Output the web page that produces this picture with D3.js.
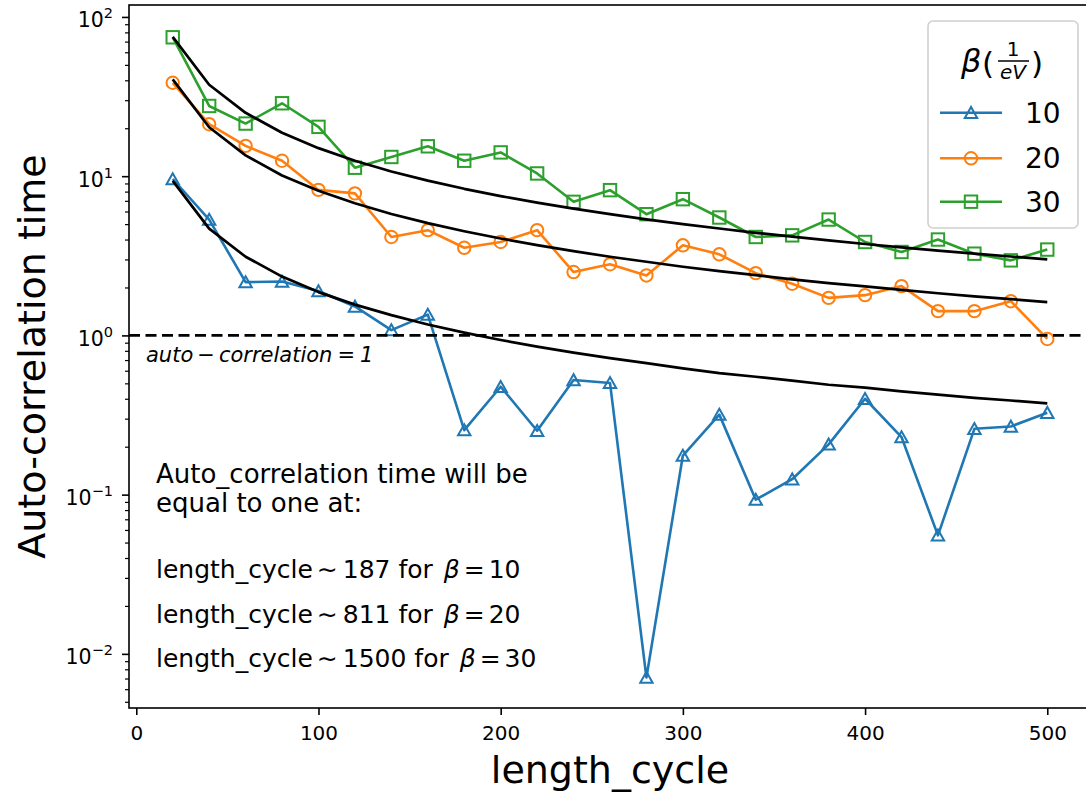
<!DOCTYPE html>
<html><head><meta charset="utf-8">
<script src="https://cdn.jsdelivr.net/npm/d3@7"></script>
<style>
body{margin:0;background:#fff}
svg{display:block}
text{font-family:"DejaVu Sans",sans-serif;fill:#000}
</style>
</head><body>
<svg id="c" width="1086" height="794"></svg>
<script>
// ---------- data ----------
const lengthCycle = [20,40,60,80,100,120,140,160,180,200,220,240,260,280,300,320,340,360,380,400,420,440,460,480,500];
const beta10 = [9.6,5.34,2.16,2.18,1.9,1.52,1.08,1.35,0.254,0.476,0.252,0.525,0.503,0.0071,0.176,0.318,0.093,0.125,0.207,0.40,0.23,0.0555,0.259,0.268,0.327];
const beta20 = [38.6,21.2,15.5,12.5,8.2,7.8,4.15,4.58,3.55,3.86,4.58,2.5,2.8,2.38,3.68,3.23,2.46,2.11,1.72,1.79,2.04,1.42,1.42,1.64,0.95];
const beta30 = [74.5,27.6,21.4,28.7,20.4,11.3,13.2,15.4,12.5,14.1,10.4,6.9,8.17,5.77,7.17,5.5,4.15,4.25,5.34,3.86,3.34,4.0,3.26,2.96,3.46];
const fit10 = [9.35,4.68,3.12,2.34,1.87,1.56,1.34,1.17,1.04,0.935,0.85,0.78,0.72,0.67,0.62,0.58,0.55,0.52,0.49,0.47,0.445,0.425,0.405,0.39,0.374];
const fit20 = [40.55,20.3,13.5,10.1,8.11,6.76,5.79,5.07,4.51,4.06,3.69,3.38,3.12,2.90,2.70,2.53,2.39,2.25,2.13,2.03,1.93,1.84,1.76,1.69,1.62];
const fit30 = [75,37.5,25,18.75,15,12.5,10.7,9.38,8.33,7.5,6.82,6.25,5.77,5.36,5.0,4.69,4.41,4.17,3.95,3.75,3.57,3.41,3.26,3.13,3.0];
const xTicks = [0,100,200,300,400,500];
const yTicks = [1e-2,1e-1,1e0,1e1,1e2];
const yTickExp = ["\u22122","\u22121","0","1","2"];
const legendLabels = ["10","20","30"];
const crossings = ["187","811","1500"];
const seriesColors = ["#1f77b4","#ff7f0e","#2ca02c"];
const markerTypes = ["triangle","circle","square"];

// ---------- scales ----------
const svg = d3.select("#c");
const L = 129, R = 1091, T = 5, B = 708;
const x = d3.scaleLinear().domain([-4, 524]).range([L, R]);
const y = d3.scaleLog().domain([Math.pow(10,-2.34), Math.pow(10,2.075)]).range([B, T]);

// ---------- axes ----------
const xAxis = d3.axisBottom(x).tickValues(xTicks).tickSize(7).tickPadding(11).tickFormat(d3.format("d"));
const gx = svg.append("g").attr("transform", `translate(0,${B})`).call(xAxis);
gx.select(".domain").remove();
gx.selectAll(".tick line").attr("stroke","#000").attr("stroke-width",1.6);
gx.selectAll(".tick text").style("font-family","DejaVu Sans").style("font-size","20px").attr("fill","#000");

const minor = [];
for (let e = -3; e <= 2; e++) for (let k = 2; k <= 9; k++) {
  const v = k * Math.pow(10, e);
  if (v >= y.domain()[0] && v <= y.domain()[1]) minor.push(v);
}
const gyMinor = svg.append("g").attr("transform", `translate(${L},0)`)
  .call(d3.axisLeft(y).tickValues(minor).tickSize(4).tickFormat(""));
gyMinor.select(".domain").remove();
gyMinor.selectAll(".tick line").attr("stroke","#000").attr("stroke-width",1.2);

const gy = svg.append("g").attr("transform", `translate(${L},0)`)
  .call(d3.axisLeft(y).tickValues(yTicks).tickSize(7).tickFormat(""));
gy.select(".domain").remove();
gy.selectAll(".tick line").attr("stroke","#000").attr("stroke-width",1.6);

yTicks.forEach((v, i) => {
  const t = svg.append("text").attr("x", 113).attr("y", y(v) + 10.5)
    .attr("text-anchor","end").style("font-size","20.5px");
  t.append("tspan").text("10");
  t.append("tspan").attr("dy", -9).style("font-size","14.5px").text(yTickExp[i]);
});

// ---------- axis labels ----------
svg.append("text").attr("x", (x(-4) + x(524)) / 2).attr("y", 783)
  .attr("text-anchor","middle").style("font-size","38px").text("length_cycle");
svg.append("text").attr("transform", `translate(45,${(T + B) / 2}) rotate(-90)`)
  .attr("text-anchor","middle").style("font-size","38px").text("Auto-correlation time");

// ---------- plot ----------
const plot = svg.append("g");
const line = d3.line().x(d => x(d[0])).y(d => y(d[1]));

function marker(g, type, cx, cy, color) {
  if (type === "circle") {
    g.append("circle").attr("cx", cx).attr("cy", cy).attr("r", 6.2)
      .attr("fill","none").attr("stroke", color).attr("stroke-width", 2);
  } else if (type === "square") {
    g.append("rect").attr("x", cx - 6.2).attr("y", cy - 6.2).attr("width", 12.4).attr("height", 12.4)
      .attr("fill","none").attr("stroke", color).attr("stroke-width", 2);
  } else {
    g.append("path").attr("d", `M${cx},${cy - 5.8}L${cx - 6.2},${cy + 5.2}L${cx + 6.2},${cy + 5.2}Z`)
      .attr("fill","none").attr("stroke", color).attr("stroke-width", 2).attr("stroke-linejoin","miter");
  }
}

const seriesData = [beta10, beta20, beta30];
const fitData = [fit10, fit20, fit30];
seriesData.forEach((vals, i) => {
  const pts = lengthCycle.map((lc, j) => [lc, vals[j]]);
  plot.append("path").attr("d", line(pts)).attr("fill","none")
    .attr("stroke", seriesColors[i]).attr("stroke-width", 2.6).attr("stroke-linejoin","round");
  const mg = plot.append("g");
  pts.forEach(p => marker(mg, markerTypes[i], x(p[0]), y(p[1]), seriesColors[i]));
  const fpts = lengthCycle.map((lc, j) => [lc, fitData[i][j]]);
  plot.append("path").attr("d", line(fpts)).attr("fill","none")
    .attr("stroke", "#000").attr("stroke-width", 2.7).attr("stroke-linejoin","round");
});

// reference line at 1
plot.append("line").attr("x1", L).attr("x2", R).attr("y1", y(1)).attr("y2", y(1))
  .attr("stroke","#000").attr("stroke-width", 2.8).attr("stroke-dasharray","11,5.5");

const refLbl = svg.append("text").attr("x", 146).attr("y", 362).style("font-size","21px").style("font-style","italic");
refLbl.append("tspan").text("auto");
refLbl.append("tspan").attr("dx", 4).text("\u2212");
refLbl.append("tspan").attr("dx", 4).text("correlation");
refLbl.append("tspan").attr("dx", 5).text("=");
refLbl.append("tspan").attr("dx", 5).text("1");

// annotation
const ann = svg.append("g");
ann.append("text").attr("x", 156).attr("y", 483).style("font-size","26px").text("Auto_correlation time will be");
ann.append("text").attr("x", 156).attr("y", 512).style("font-size","26px").text("equal to one at:");
const annY = [578, 622.5, 667];
crossings.forEach((c, i) => {
  const t = ann.append("text").attr("x", 156).attr("y", annY[i]).style("font-size","25px");
  t.append("tspan").text("length_cycle");
  t.append("tspan").attr("dx", 4).text("\u223C");
  t.append("tspan").attr("dx", 5).text(c);
  t.append("tspan").text(" for ");
  t.append("tspan").attr("dx", 3).style("font-style","italic").text("\u03B2");
  t.append("tspan").attr("dx", 4).text("=");
  t.append("tspan").attr("dx", 4).text(legendLabels[i]);
});

// frame
svg.append("rect").attr("x", L).attr("y", T).attr("width", R - L).attr("height", B - T)
  .attr("fill","none").attr("stroke","#000").attr("stroke-width",1.6);

// ---------- legend ----------
const lg = svg.append("g");
lg.append("rect").attr("x", 928).attr("y", 21).attr("width", 150).attr("height", 207).attr("rx", 5)
  .attr("fill","#fff").attr("fill-opacity",0.8).attr("stroke","#d0d0d0").attr("stroke-width",1.6);
lg.append("text").attr("x", 961).attr("y", 72).style("font-size","32px").style("font-style","italic").text("\u03B2");
lg.append("text").attr("x", 982).attr("y", 74).style("font-size","31px").text("(");
lg.append("text").attr("x", 1013).attr("y", 56).attr("text-anchor","middle").style("font-size","20px").text("1");
lg.append("line").attr("x1", 998).attr("x2", 1029).attr("y1", 61).attr("y2", 61).attr("stroke","#000").attr("stroke-width",1.5);
lg.append("text").attr("x", 1013).attr("y", 79).attr("text-anchor","middle").style("font-size","20px").style("font-style","italic").text("eV");
lg.append("text").attr("x", 1031).attr("y", 74).style("font-size","31px").text(")");
const legY = [112.7, 158.3, 201.7];
legendLabels.forEach((lab, i) => {
  lg.append("line").attr("x1", 940).attr("x2", 1002).attr("y1", legY[i]).attr("y2", legY[i])
    .attr("stroke", seriesColors[i]).attr("stroke-width", 2.6);
  marker(lg, markerTypes[i], 971, legY[i], seriesColors[i]);
  lg.append("text").attr("x", 1025).attr("y", legY[i] + 10).style("font-size","28px").text(lab);
});
</script>
</body></html>
